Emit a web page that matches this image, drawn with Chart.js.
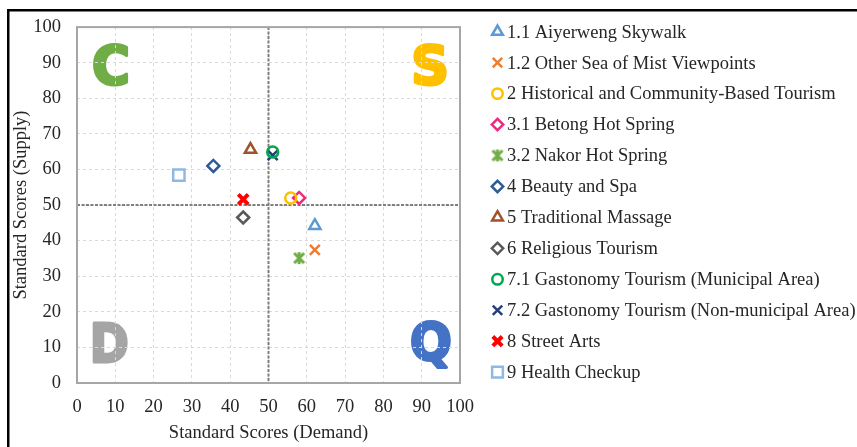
<!DOCTYPE html>
<html><head><meta charset="utf-8">
<script src="https://cdn.jsdelivr.net/npm/chart.js@4"></script>
<style>html,body{margin:0;padding:0;background:#fff;overflow:hidden}#wrap{width:857px;height:447px;position:relative}</style>
</head><body><div id="wrap"><canvas id="c" width="857" height="447"></canvas></div>
<script>
// ---- data ----
const categories = [
  "1.1 Aiyerweng Skywalk",
  "1.2 Other Sea of Mist Viewpoints",
  "2 Historical and Community-Based Tourism",
  "3.1 Betong Hot Spring",
  "3.2 Nakor Hot Spring",
  "4 Beauty and Spa",
  "5 Traditional Massage",
  "6 Religious Tourism",
  "7.1 Gastonomy Tourism (Municipal Area)",
  "7.2 Gastonomy Tourism (Non-municipal Area)",
  "8 Street Arts",
  "9 Health Checkup"
];
const demand = [62.1, 62.1, 55.8, 58.0, 58.0, 35.6, 45.3, 43.4, 51.1, 51.1, 43.4, 26.6];
const supply = [44.2, 37.4, 52.0, 52.0, 35.1, 61.0, 65.6, 46.5, 64.9, 64.0, 51.6, 58.4];
const xTicks = [0,10,20,30,40,50,60,70,80,90,100];
const yTicks = [0,10,20,30,40,50,60,70,80,90,100];
const quadrantLabels = ["C", "S", "D", "Q"];
const xTitle = "Standard Scores (Demand)";
const yTitle = "Standard Scores (Supply)";

// ---- styles ----
function makeStarMarker(color) {
  const c = document.createElement('canvas');
  c.width = 14; c.height = 14;
  const g = c.getContext('2d');
  g.strokeStyle = color; g.lineWidth = 3; g.lineCap = 'butt';
  g.beginPath();
  g.moveTo(2, 2); g.lineTo(12, 12);
  g.moveTo(2, 12); g.lineTo(12, 2);
  g.moveTo(7, 1); g.lineTo(7, 13);
  g.stroke();
  return c;
}
const pointColors = ['#5B9BD5','#ED7D31','#FFC000','#EC2A7E','#70AD47','#2F5B96','#A0522D','#595959','#00A650','#24407A','#FF0000','#8FB9E3'];
const pointStyles = ['triangle','crossRot','circle','rectRot', makeStarMarker('#70AD47'),'rectRot','triangle','rectRot','circle','crossRot','crossRot','rect'];
const pointRadii  = [6.5, 7, 5.5, 6, 7, 6, 6.5, 6, 5.5, 7, 7, 8];
const pointWidths = [2.5, 2.5, 2.5, 2.5, 3, 2.5, 2.5, 2.5, 2.5, 2.5, 4, 2.5];
const quadColors = ['#70AD47', '#FFC000', '#A5A5A5', '#4472C4'];
const FONT = "'Liberation Serif', 'Times New Roman', serif";
const TXT = '#262626';

const datasets = categories.map((name, i) => ({
  label: name,
  data: [{x: demand[i], y: supply[i]}],
  pointStyle: pointStyles[i],
  pointRadius: pointRadii[i],
  pointHoverRadius: pointRadii[i],
  pointBorderWidth: pointWidths[i],
  borderColor: pointColors[i],
  backgroundColor: 'rgba(0,0,0,0)',
  pointBackgroundColor: 'rgba(0,0,0,0)'
}));

function drawLetter(ctx, ch, color, left, top, w, h) {
  ctx.save();
  ctx.font = "bold 60px 'DejaVu Sans', sans-serif";
  ctx.textBaseline = 'alphabetic';
  ctx.textAlign = 'left';
  const m = ctx.measureText(ch);
  const inkW = m.actualBoundingBoxLeft + m.actualBoundingBoxRight + 4;
  const inkH = m.actualBoundingBoxAscent + m.actualBoundingBoxDescent + 4;
  ctx.translate(left, top);
  ctx.scale(w / inkW, h / inkH);
  ctx.fillStyle = color;
  ctx.strokeStyle = color;
  ctx.lineWidth = 3.5;
  ctx.lineJoin = 'round';
  ctx.fillText(ch, m.actualBoundingBoxLeft + 2, m.actualBoundingBoxAscent + 2);
  ctx.strokeText(ch, m.actualBoundingBoxLeft + 2, m.actualBoundingBoxAscent + 2);
  ctx.restore();
}

function fallbackPoint(ctx, o, x, y) {
  const r = o.radius;
  if (typeof o.pointStyle === 'object') { ctx.drawImage(o.pointStyle, x - o.pointStyle.width / 2, y - o.pointStyle.height / 2); return; }
  ctx.beginPath();
  switch (o.pointStyle) {
    case 'triangle':
      for (let k = 0; k < 3; k++) { const a = k * 2 * Math.PI / 3; const px = x + Math.sin(a) * r, py = y - Math.cos(a) * r; k ? ctx.lineTo(px, py) : ctx.moveTo(px, py); }
      ctx.closePath(); break;
    case 'rect': { const s = Math.SQRT1_2 * r; ctx.rect(x - s, y - s, 2 * s, 2 * s); break; }
    case 'rectRot': ctx.moveTo(x, y - r); ctx.lineTo(x + r, y); ctx.lineTo(x, y + r); ctx.lineTo(x - r, y); ctx.closePath(); break;
    case 'crossRot': { const d = Math.SQRT1_2 * r; ctx.moveTo(x - d, y - d); ctx.lineTo(x + d, y + d); ctx.moveTo(x - d, y + d); ctx.lineTo(x + d, y - d); break; }
    default: ctx.arc(x, y, r, 0, Math.PI * 2); ctx.closePath();
  }
  ctx.fill();
  ctx.stroke();
}

const decor = {
  id: 'decor',
  beforeDraw(chart) {
    const {ctx, chartArea: ca} = chart;
    ctx.save();
    ctx.fillStyle = '#fff';
    ctx.fillRect(0, 0, chart.width, chart.height);
    ctx.restore();
    drawLetter(ctx, quadrantLabels[0], quadColors[0], ca.left + 15, ca.top + 16, 37, 44);
    drawLetter(ctx, quadrantLabels[1], quadColors[1], ca.right - 47, ca.top + 16, 34, 44);
    drawLetter(ctx, quadrantLabels[2], quadColors[2], ca.left + 15, ca.bottom - 62, 36, 43);
    drawLetter(ctx, quadrantLabels[3], quadColors[3], ca.right - 50, ca.bottom - 63, 41, 49);
  },
  beforeDatasetsDraw(chart) {
    const {ctx, chartArea: ca, scales} = chart;
    const mx = scales.x.getPixelForValue(50);
    const my = scales.y.getPixelForValue(50);
    ctx.save();
    ctx.strokeStyle = '#7f7f7f';
    ctx.lineWidth = 2;
    ctx.setLineDash([3, 1.5]);
    ctx.beginPath();
    ctx.moveTo(mx, ca.top); ctx.lineTo(mx, ca.bottom);
    ctx.moveTo(ca.left, my); ctx.lineTo(ca.right, my);
    ctx.stroke();
    ctx.setLineDash([]);
    ctx.strokeStyle = '#a6a6a6';
    ctx.lineWidth = 2;
    ctx.strokeRect(ca.left, ca.top, ca.right - ca.left, ca.bottom - ca.top);
    ctx.restore();
  },
  afterDraw(chart) {
    const {ctx} = chart;
    ctx.save();
    const lx = 497.5, tx = 507, y0 = 31.7, dy = 30.95;
    ctx.font = "18.5px " + FONT;
    ctx.textBaseline = 'middle';
    ctx.textAlign = 'left';
    chart.data.datasets.forEach((ds, i) => {
      const y = y0 + i * dy;
      ctx.save();
      ctx.strokeStyle = ds.borderColor;
      ctx.fillStyle = '#fff';
      ctx.lineWidth = ds.pointBorderWidth;
      const o = {pointStyle: ds.pointStyle, radius: ds.pointRadius * 0.95, rotation: 0, borderWidth: ds.pointBorderWidth};
      if (Chart.helpers && Chart.helpers.drawPoint) Chart.helpers.drawPoint(ctx, o, lx, y);
      else fallbackPoint(ctx, o, lx, y);
      ctx.restore();
      ctx.fillStyle = TXT;
      ctx.fillText(ds.label, tx, y + 1);
    });
    ctx.fillStyle = '#000';
    ctx.fillRect(7, 9, 850, 2.5);
    ctx.fillRect(7, 9, 2.5, 438);
    ctx.restore();
  }
};

new Chart(document.getElementById('c'), {
  type: 'scatter',
  data: {datasets},
  plugins: [decor],
  options: {
    responsive: false,
    animation: false,
    devicePixelRatio: 1,
    layout: {padding: {left: 0, right: 397, top: 22, bottom: 0}},
    plugins: {legend: {display: false}, tooltip: {enabled: false}},
    scales: {
      x: {
        type: 'linear', min: 0, max: 100,
        afterBuildTicks(s) { s.ticks = xTicks.map(v => ({value: v})); },
        afterFit(s) { s.height = 64; },
        ticks: {font: {family: FONT, size: 18.5}, color: TXT, padding: 13, maxRotation: 0, autoSkip: false},
        grid: {color: '#d9d9d9', lineWidth: 1, drawTicks: false},
        border: {display: false, dash: [3, 3]},
        title: {display: true, text: xTitle, font: {family: FONT, size: 18.5}, color: TXT, padding: {top: 4, bottom: 3}}
      },
      y: {
        type: 'linear', min: 0, max: 100,
        afterBuildTicks(s) { s.ticks = yTicks.map(v => ({value: v})); },
        afterFit(s) { s.width = 77; },
        ticks: {font: {family: FONT, size: 18.5}, color: TXT, padding: 16, autoSkip: false},
        grid: {color: '#d9d9d9', lineWidth: 1, drawTicks: false},
        border: {display: false, dash: [3, 3]},
        title: {display: true, text: yTitle, font: {family: FONT, size: 18.5}, color: TXT, padding: {top: 10, bottom: 0}}
      }
    }
  }
});
</script>
</body></html>
